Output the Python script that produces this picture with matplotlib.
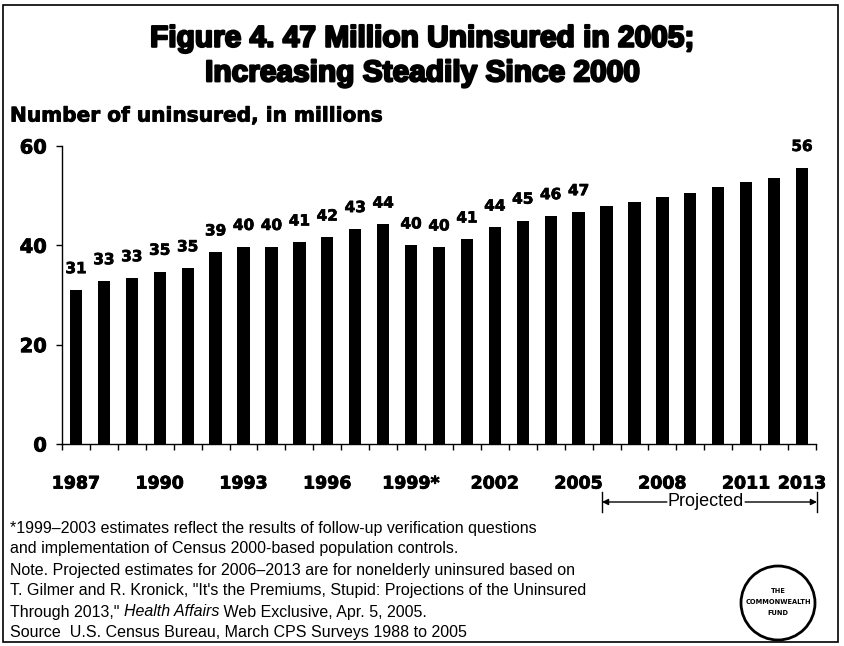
import matplotlib
matplotlib.use("Agg")
import matplotlib.pyplot as plt
from matplotlib.patches import Ellipse, Rectangle, FancyArrowPatch
import matplotlib.patheffects as pe

# Uninsured Americans, millions (2006-2013 are projections)
years = list(range(1987, 2014))
uninsured = [31.0, 32.8, 33.4, 34.7, 35.4, 38.6, 39.7, 39.7, 40.6, 41.6,
             43.3, 44.2, 40.0, 39.6, 41.2, 43.6, 45.0, 45.9, 46.7,
             47.9, 48.8, 49.8, 50.6, 51.7, 52.7, 53.5, 55.6]
labeled_years = list(range(1987, 2006)) + [2013]
tick_years = [1987, 1990, 1993, 1996, 1999, 2002, 2005, 2008, 2011, 2013]
tick_labels = ["1987", "1990", "1993", "1996", "1999*", "2002", "2005",
               "2008", "2011", "2013"]
y_ticks = [0, 20, 40, 60]

title_lines = "Figure 4. 47 Million Uninsured in 2005;\nIncreasing Steadily Since 2000"
y_caption = "Number of uninsured, in millions"
notes = [
    "*1999\u20132003 estimates reflect the results of follow-up verification questions",
    "and implementation of Census 2000-based population controls.",
    "Note. Projected estimates for 2006\u20132013 are for nonelderly uninsured based on",
    "T. Gilmer and R. Kronick, \"It's the Premiums, Stupid: Projections of the Uninsured",
    None,
    "Source  U.S. Census Bureau, March CPS Surveys 1988 to 2005",
]

W, H = 845, 646
fig = plt.figure(figsize=(W / 100, H / 100), dpi=100)
fig.patch.set_facecolor("white")

heavy = dict(family=["DejaVu Sans"], weight="bold")
arialish = dict(family=["Liberation Sans", "DejaVu Sans"], weight="bold")
plain = ["Liberation Sans", "DejaVu Sans"]


def thick(w):
    return [pe.withStroke(linewidth=w, foreground="black")]


ax = fig.add_axes([62 / W, 1 - 444 / H, 754 / W, 298 / H])
idx = list(range(len(years)))
ax.bar(idx, uninsured, width=0.44, color="black", align="center")
ax.set_xlim(-0.5, len(years) - 0.5)
ax.set_ylim(0, 60)

for sp in ("top", "right"):
    ax.spines[sp].set_visible(False)
for sp in ("left", "bottom"):
    ax.spines[sp].set_linewidth(1.0)

ax.set_yticks(y_ticks)
ax.set_yticklabels([str(v) for v in y_ticks], fontsize=14, **heavy)
ax.tick_params(axis="y", length=4, width=1, pad=7)

ax.set_xticks([years.index(y) for y in tick_years])
ax.set_xticklabels(tick_labels, fontsize=12.5, **heavy)
ax.tick_params(axis="x", which="major", length=0, pad=22)
ax.set_xticks([i - 0.5 for i in range(len(years) + 1)], minor=True)
ax.tick_params(axis="x", which="minor", length=4, width=1, direction="out")
for lab in ax.get_xticklabels() + ax.get_yticklabels():
    lab.set_path_effects(thick(0.6))

for y in labeled_years:
    i = years.index(y)
    v = uninsured[i]
    ax.annotate(f"{v:.0f}", (i, v), xytext=(0, 10), textcoords="offset points",
                ha="center", va="bottom", fontsize=11,
                path_effects=thick(0.5), **heavy)

# Title and axis caption
fig.text(0.5, 1 - 56 / H, title_lines, ha="center", va="center",
         fontsize=21.5, linespacing=1.3, color="black",
         path_effects=thick(1.6), **arialish)
fig.text(10 / W, 1 - 116 / H, y_caption, ha="left", va="center",
         fontsize=14.5, path_effects=thick(0.6), **heavy)

# Projected bracket
yb = 1 - 502 / H
x0, x1 = 602 / W, 817 / W
for xe in (x0, x1):
    fig.add_artist(plt.Line2D([xe, xe], [yb - 10 / H, yb + 10 / H],
                              color="black", lw=1))
proj = fig.text(706 / W, yb, "Projected", ha="center", va="center",
                fontsize=13, family=plain)
fig.canvas.draw()
r = fig.canvas.get_renderer()
pb = proj.get_window_extent(r)
arrow_kw = dict(arrowstyle="-|>", color="black", lw=1, mutation_scale=9,
                shrinkA=0, shrinkB=0, transform=fig.transFigure)
fig.patches.append(FancyArrowPatch((pb.x0 / W - 1 / W, yb), (x0, yb), **arrow_kw))
fig.patches.append(FancyArrowPatch((pb.x1 / W + 1 / W, yb), (x1, yb), **arrow_kw))

# Footnotes
fs_note = 11.5
line_y = [528, 549, 570, 591, 612, 633]
for text, ly in zip(notes, line_y):
    if text is not None:
        fig.text(10 / W, 1 - ly / H, text, ha="left", va="center",
                 fontsize=fs_note, family=plain)
through = fig.text(10 / W, 1 - 612 / H, "Through 2013,\" ", ha="left",
                   va="center", fontsize=fs_note, family=plain)
bb = through.get_window_extent(r)
ital = fig.text(bb.x1 / W, 1 - 612 / H, "Health Affairs", ha="left", va="center",
                fontsize=fs_note, family=plain, style="italic")
bb2 = ital.get_window_extent(r)
fig.text(bb2.x1 / W, 1 - 612 / H, " Web Exclusive, Apr. 5, 2005.", ha="left",
         va="center", fontsize=fs_note, family=plain)

# Fund seal
cx, cy = 778, 603
fig.patches.append(Ellipse((cx / W, 1 - cy / H), 74 / W, 74 / H,
                           transform=fig.transFigure, facecolor="white",
                           edgecolor="black", lw=2))
for dy, t in [(-12, "THE"), (-1, "COMMONWEALTH"), (10, "FUND")]:
    fig.text(cx / W, 1 - (cy + dy) / H, t, ha="center", va="center",
             fontsize=4.8, **heavy)

# Outer frame
fig.patches.append(Rectangle((3.5 / W, 4.5 / H), 835 / W, 637 / H,
                             transform=fig.transFigure, fill=False,
                             edgecolor="black", lw=1.2))

fig.savefig("out.png", dpi=100)
